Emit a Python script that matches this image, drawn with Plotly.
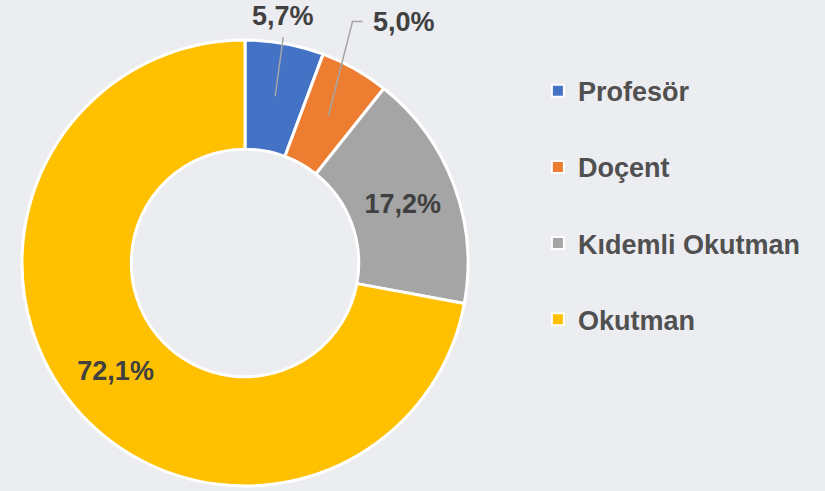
import math
import plotly.graph_objects as go

# ---- data ----
categories = ["Profesör", "Doçent", "Kıdemli Okutman", "Okutman"]
values = [5.7, 5.0, 17.2, 72.1]
colors = ["#4472C4", "#ED7D31", "#A5A5A5", "#FFC000"]
outside_labels = [True, True, False, False]

# ---- layout constants ----
W, H = 825, 491
cx, cy, R = 245, 263, 223
FONT = "Liberation Sans, Arial, sans-serif"
TXT = "#404040"

fig = go.Figure()

fig.add_trace(go.Pie(
    labels=categories,
    values=values,
    sort=False,
    direction="clockwise",
    rotation=0,
    hole=0.51,
    marker=dict(colors=colors, line=dict(color="white", width=3)),
    texttemplate=["" if o else "%{value:.1f}%" for o in outside_labels],
    textposition="inside",
    insidetextorientation="horizontal",
    textfont=dict(family=FONT, size=27, color=TXT, weight="bold"),
    domain=dict(x=[(cx - R) / W, (cx + R) / W],
                y=[(H - cy - R) / H, (H - cy + R) / H]),
    showlegend=False,
    hoverinfo="label+percent",
))

# legend entries via dummy traces
for cat, col in zip(categories, colors):
    fig.add_trace(go.Scatter(
        x=[None], y=[None], mode="markers", name=cat, legendgroup=cat,
        marker=dict(symbol="square", size=12, color=col,
                    line=dict(color="white", width=2)),
    ))

# outside labels with leader lines (anchored at slice mid-angle)
total = sum(values)
cum = 0.0
label_offsets = {0: [(8, -59)], 1: [(24, -94), (34, -94)]}
shapes = []
annotations = []
for i, v in enumerate(values):
    mid = (cum + v / 2) / total * 2 * math.pi
    cum += v
    if not outside_labels[i]:
        continue
    r = 0.76 * R
    px = cx + r * math.sin(mid)
    py = cy - r * math.cos(mid)
    pts = [(px, py)] + [(px + dx, py + dy) for dx, dy in label_offsets[i]]
    path = "M " + " L ".join(f"{x / W},{1 - y / H}" for x, y in pts)
    shapes.append(dict(type="path", path=path, xref="paper", yref="paper",
                       line=dict(color="#A6A6A6", width=1.5)))
    ex, ey = pts[-1]
    txt = f"{v:.1f}%".replace(".", ",")
    if len(pts) == 2:
        annotations.append(dict(x=ex / W, y=1 - (ey - 4) / H, xref="paper", yref="paper",
                                text=txt, showarrow=False, xanchor="center", yanchor="bottom",
                                font=dict(family=FONT, size=27, color=TXT, weight="bold")))
    else:
        annotations.append(dict(x=(ex + 8) / W, y=1 - ey / H, xref="paper", yref="paper",
                                text=txt, showarrow=False, xanchor="left", yanchor="middle",
                                font=dict(family=FONT, size=27, color=TXT, weight="bold")))

fig.update_layout(
    width=W, height=H,
    margin=dict(l=0, r=0, t=0, b=0),
    paper_bgcolor="#ECEDF0",
    plot_bgcolor="rgba(0,0,0,0)",
    separators=",.",
    xaxis=dict(visible=False),
    yaxis=dict(visible=False),
    shapes=shapes,
    annotations=annotations,
    legend=dict(x=0.652, y=0.864, xanchor="left", yanchor="top",
                tracegroupgap=38, bgcolor="rgba(0,0,0,0)",
                font=dict(family=FONT, size=27, color="#505050", weight="bold"),
                itemsizing="constant"),
)

fig.write_html("out.html",
               config={"displayModeBar": False},
               post_script="document.body.style.margin='0';document.body.style.background='#ECEDF0';")
